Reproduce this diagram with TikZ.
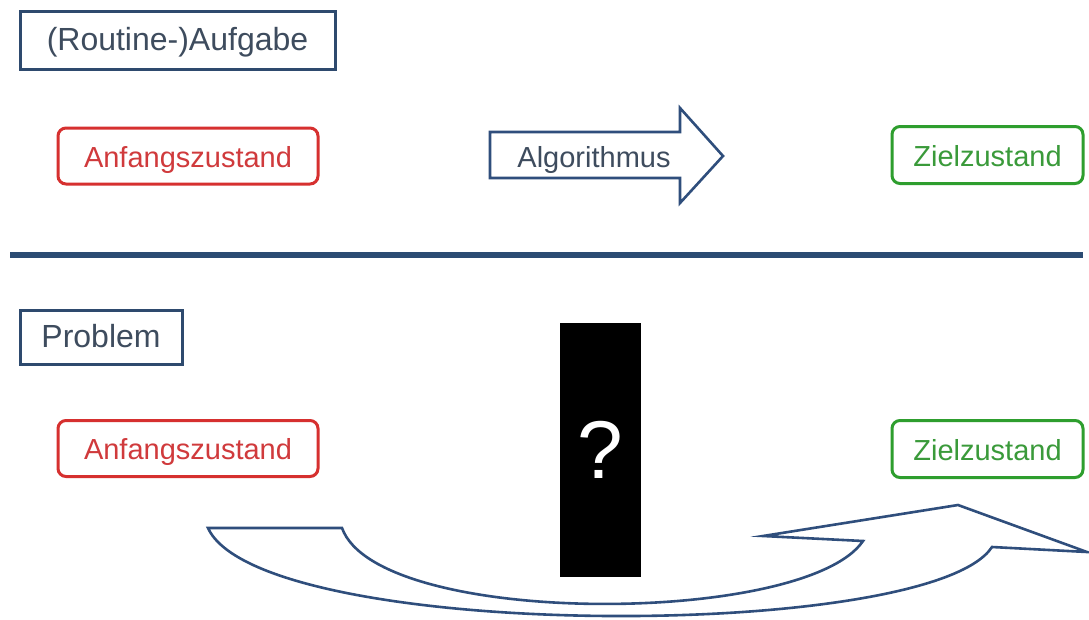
\documentclass[tikz,border=0pt]{standalone}
\usepackage{fontspec}
\setmainfont{Liberation Sans}
\definecolor{boxblue}{HTML}{2E4A6E}
\definecolor{txtblue}{HTML}{3E4C5E}
\definecolor{linblue}{HTML}{2B4C73}
\definecolor{arrblue}{HTML}{2F4E7C}
\definecolor{myred}{HTML}{D6302F}
\definecolor{redtxt}{HTML}{D03A3C}
\definecolor{mygreen}{HTML}{2E9E2E}
\definecolor{greentxt}{HTML}{3A9A3A}
\tikzset{
  titlebox/.style={draw=boxblue, line width=3pt, rectangle, inner sep=0pt,
    text=txtblue, font=\fontsize{32}{36}\selectfont, text height=24pt, text depth=4pt},
  startbox/.style={draw=myred, line width=3pt, rectangle, rounded corners=8pt, inner sep=0pt,
    text=redtxt, font=\fontsize{29}{34}\selectfont, minimum width=260pt, minimum height=56pt,
    text height=24pt, text depth=2pt},
  goalbox/.style={draw=mygreen, line width=3pt, rectangle, rounded corners=8pt, inner sep=0pt,
    text=greentxt, font=\fontsize{29}{34}\selectfont, minimum width=191pt, minimum height=57pt,
    text height=24pt, text depth=2pt},
  arrowline/.style={draw=arrblue, line width=2.6pt, line join=miter},
}
\begin{document}
\begin{tikzpicture}[x=1pt,y=-1pt]
\useasboundingbox[fill=white] (0,0) rectangle (1089,619);

% upper part
\node[titlebox, minimum width=315pt, minimum height=58pt] (aufg) at (177.5,40) {(Routine-)Aufgabe};
\node[startbox] (start1) at (188,156) {Anfangszustand};
\node[goalbox] (goal1) at (987.5,155) {Zielzustand};

\draw[arrowline, fill=white]
  (490,132) -- (680,132) -- (680,108) -- (723,156) -- (680,203) -- (680,178) -- (490,178) -- cycle;
\node[text=txtblue, font=\fontsize{29}{34}\selectfont, text height=24pt, text depth=2pt, inner sep=0pt] (algo) at (594,156) {Algorithmus};

% separator
\draw[linblue, line width=6pt] (10,255) -- (1083,255);

% lower part
\node[titlebox, minimum width=162pt, minimum height=54pt] (prob) at (101,337) {Problem};
\node[startbox] (start2) at (188,448.5) {Anfangszustand};
\node[goalbox] (goal2) at (987.5,449) {Zielzustand};

% curved arrow
\draw[arrowline, fill=white]
  (208,528) -- (342,528)
  .. controls (378,628) and (805,626) .. (863,541)
  -- (763,536) -- (958,505) -- (1087,552) -- (992,547)
  .. controls (930,642) and (260,642) .. (208,528) -- cycle;

% black box
\node[fill=black, draw=none, minimum width=81pt, minimum height=254pt, inner sep=0pt,
  text=white, font=\fontsize{82}{90}\selectfont] (qbox) at (600.5,450) {?};
\end{tikzpicture}
\end{document}
